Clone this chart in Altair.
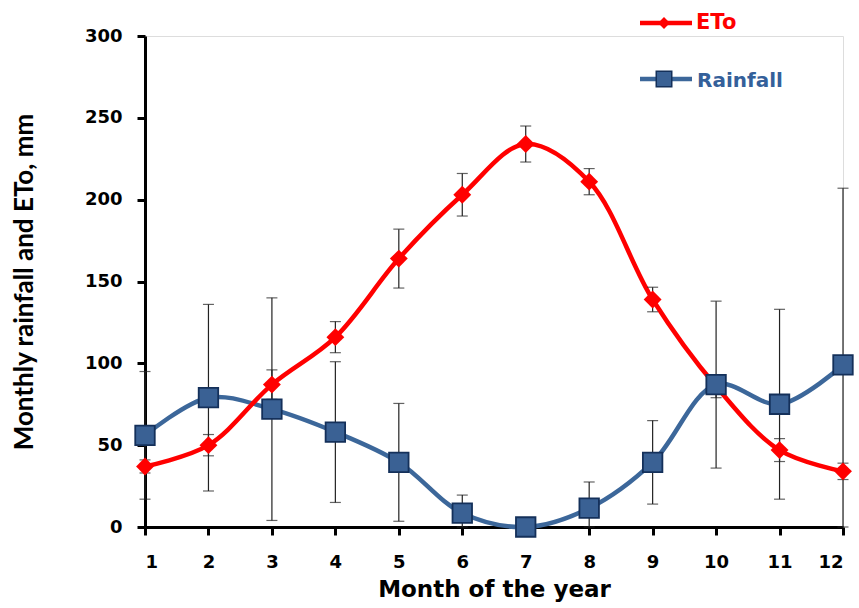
import altair as alt
import pandas as pd

months = list(range(1, 13))

# Monthly reference evapotranspiration (mm) and its standard deviation
eto = [37, 50, 87, 116, 164, 203, 234, 211, 139, 86, 47, 34]
eto_err = [4, 6.5, 9, 9.5, 18, 13, 11, 8, 7.5, 7, 7, 5]

# Monthly rainfall (mm) and its standard deviation
rain = [56, 79, 72, 58, 39.5, 8.5, 0, 11.5, 39.5, 87, 75, 99]
rain_err = [39, 57, 68, 43, 36, 11, 0, 16, 25.5, 51, 58, 108]

RED = "#FF0000"
BLUE = "#3C679A"
BLUE_FILL = "#3A6194"
BLUE_EDGE = "#14305A"
TEXT_BLUE = "#34609A"
FONT = "DejaVu Sans"
YFONT = "Lato"

rows = []
for m, v, e in zip(months, eto, eto_err):
    rows.append({"month": m, "value": v, "lo": max(v - e, 0), "hi": v + e, "series": "ETo"})
for m, v, e in zip(months, rain, rain_err):
    rows.append({"month": m, "value": v, "lo": max(v - e, 0), "hi": v + e, "series": "Rainfall"})
df = pd.DataFrame(rows)

x_enc = alt.X(
    "month:Q",
    scale=alt.Scale(domain=[1, 12], nice=False, zero=False),
    axis=alt.Axis(
        values=months, format="d", title="Month of the year",
        grid=False, domainColor="black", domainWidth=3, tickColor="black",
        tickWidth=3, tickSize=8, labelFont=FONT, labelFontWeight="bold",
        labelFontSize=18, labelColor="black", labelPadding=18,
        titleFont=FONT, titleFontWeight="bold", titleFontSize=23,
        titleColor="black", titleBaseline="alphabetic", titleY=69,
    ),
)
y_scale = alt.Scale(domain=[0, 300], nice=False)
y_enc = alt.Y(
    "value:Q",
    scale=y_scale,
    axis=alt.Axis(
        values=[0, 50, 100, 150, 200, 250, 300], title="Monthly rainfall and ETo, mm",
        grid=False, domainColor="black", domainWidth=3, tickColor="black",
        tickWidth=3, tickSize=8, labelFont=FONT, labelFontWeight="bold",
        labelFontSize=18, labelColor="black", labelPadding=15,
        titleFont=YFONT, titleFontWeight="bold", titleFontSize=26,
        titleColor="black", titleBaseline="alphabetic", titleX=-113,
    ),
)

base = alt.Chart(df)

rain_line = base.transform_filter(alt.datum.series == "Rainfall").mark_line(
    interpolate="catmull-rom", strokeWidth=4.5, color=BLUE
).encode(x=x_enc, y=y_enc)

eto_line = base.transform_filter(alt.datum.series == "ETo").mark_line(
    interpolate="catmull-rom", strokeWidth=4.5, color=RED
).encode(x=x_enc, y=y_enc)

bars = base.mark_rule(color="#222222", strokeWidth=1.2).encode(
    x="month:Q", y=alt.Y("lo:Q", scale=y_scale), y2="hi:Q"
)
caps_hi = base.mark_tick(color="#222222", thickness=1.2, size=11, orient="horizontal").encode(
    x="month:Q", y=alt.Y("hi:Q", scale=y_scale)
)
caps_lo = base.mark_tick(color="#222222", thickness=1.2, size=11, orient="horizontal").encode(
    x="month:Q", y=alt.Y("lo:Q", scale=y_scale)
)

diamonds = base.transform_filter(alt.datum.series == "ETo").mark_point(
    shape="diamond", filled=True, size=320, color=RED, opacity=1
).encode(x="month:Q", y="value:Q")

squares = base.transform_filter(alt.datum.series == "Rainfall").mark_point(
    shape="square", filled=True, size=380, fill=BLUE_FILL, stroke=BLUE_EDGE,
    strokeWidth=1.8, opacity=1
).encode(x="month:Q", y="value:Q")

# Legend entries drawn in the top-right corner
leg = pd.DataFrame({"series": ["ETo", "Rainfall"], "label": ["ETo", "Rainfall"]})
leg_eto = alt.Chart(leg).transform_filter(alt.datum.series == "ETo")
leg_rain = alt.Chart(leg).transform_filter(alt.datum.series == "Rainfall")

legend_layers = [
    leg_eto.mark_rule(color=RED, strokeWidth=4.5).encode(x=alt.value(495), x2=alt.value(547), y=alt.value(-13)),
    leg_eto.mark_point(shape="diamond", filled=True, size=140, color=RED, opacity=1).encode(
        x=alt.value(519), y=alt.value(-13)),
    leg_eto.mark_text(align="left", baseline="alphabetic", font=FONT, fontWeight="bold",
                      fontSize=21, color=RED).encode(x=alt.value(551), y=alt.value(-7), text="label:N"),
    leg_rain.mark_rule(color=BLUE, strokeWidth=4.5).encode(x=alt.value(495), x2=alt.value(547), y=alt.value(43)),
    leg_rain.mark_point(shape="square", filled=True, size=240, fill=BLUE_FILL, stroke=BLUE_EDGE,
                        strokeWidth=1.5, opacity=1).encode(x=alt.value(519), y=alt.value(43)),
    leg_rain.mark_text(align="left", baseline="alphabetic", font=FONT, fontWeight="bold",
                       fontSize=20, color=TEXT_BLUE).encode(x=alt.value(552), y=alt.value(51), text="label:N"),
]

chart = alt.layer(
    rain_line, eto_line, bars, caps_hi, caps_lo, diamonds, squares, *legend_layers
).properties(
    width=698, height=491,
    autosize=alt.AutoSizeParams(type="none"),
    padding={"left": 145, "top": 36, "right": 16, "bottom": 81},
).configure_view(stroke=None).configure(background="white")

chart.save("out.html", embed_options={"renderer": "svg", "actions": False})
